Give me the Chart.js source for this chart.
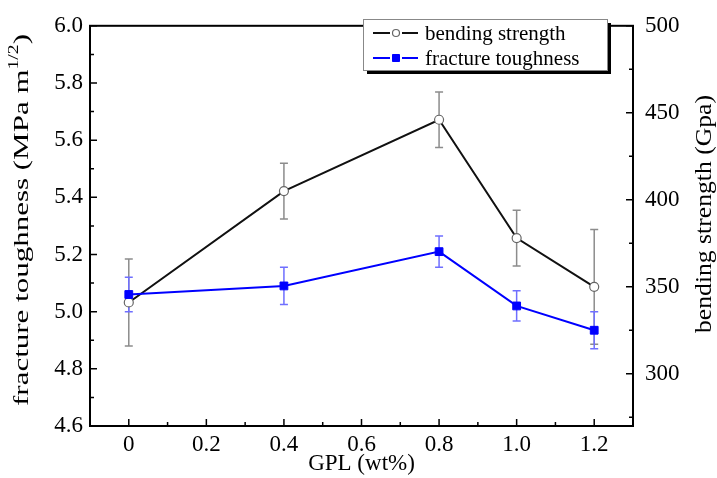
<!DOCTYPE html>
<html lang="en">
<head>
    <meta charset="UTF-8">
    <title>GPL - fracture toughness and bending strength</title>
    <script src="https://cdn.jsdelivr.net/npm/chart.js"></script>
    <style>
        body { margin: 0; background: #fff; }
        #wrap { width: 717px; height: 478px; }
    </style>
</head>
<body>
    <div id="wrap"><canvas id="chart" width="717" height="478"></canvas></div>
    <script>
        // data
        const gpl = [0, 0.4, 0.8, 1.0, 1.2];
        const bendingStrength = [341, 405, 446, 378, 350];
        const bendingErr = [25, 16, 16, 16, 33];
        const fractureToughness = [5.06, 5.09, 5.21, 5.02, 4.935];
        const fractureErr = [0.06, 0.065, 0.055, 0.053, 0.065];

        // ticks
        const xTicks = [0, 0.2, 0.4, 0.6, 0.8, 1.0, 1.2];
        const xMinor = [0.1, 0.3, 0.5, 0.7, 0.9, 1.1];
        const leftTicks = [4.6, 4.8, 5.0, 5.2, 5.4, 5.6, 5.8, 6.0];
        const leftMinor = [4.7, 4.9, 5.1, 5.3, 5.5, 5.7, 5.9];
        const rightTicks = [300, 350, 400, 450, 500];
        const rightMinor = [275, 325, 375, 425, 475];

        const FONT = '"Liberation Serif", "Times New Roman", serif';

        const errorBars = {
            id: 'errorBars',
            beforeDatasetsDraw(chart) {
                const { ctx, scales } = chart;
                function draw(yScale, vals, errs, color) {
                    ctx.save();
                    ctx.strokeStyle = color;
                    ctx.lineWidth = 1.5;
                    gpl.forEach((g, i) => {
                        const px = scales.x.getPixelForValue(g);
                        const top = yScale.getPixelForValue(vals[i] + errs[i]);
                        const bot = yScale.getPixelForValue(vals[i] - errs[i]);
                        ctx.beginPath();
                        ctx.moveTo(px, top); ctx.lineTo(px, bot);
                        ctx.moveTo(px - 4, top); ctx.lineTo(px + 4, top);
                        ctx.moveTo(px - 4, bot); ctx.lineTo(px + 4, bot);
                        ctx.stroke();
                    });
                    ctx.restore();
                }
                draw(scales.y2, bendingStrength, bendingErr, '#8c8c8c');
                draw(scales.y, fractureToughness, fractureErr, '#6f6fff');
            }
        };

        // rotated title, stretched along the text to a given length
        function vTitle(ctx, parts, cx, cy, len) {
            let total = 0;
            parts.forEach(p => { ctx.font = p.size + 'px ' + FONT; p.w = ctx.measureText(p.text).width; total += p.w; });
            ctx.save();
            ctx.translate(cx, cy);
            ctx.rotate(-Math.PI / 2);
            ctx.scale(len / total, 1);
            ctx.textAlign = 'left';
            ctx.textBaseline = 'middle';
            let x = -total / 2;
            parts.forEach(p => {
                ctx.font = p.size + 'px ' + FONT;
                ctx.fillText(p.text, x, p.dy || 0);
                x += p.w;
            });
            ctx.restore();
        }

        const frame = {
            id: 'frame',
            afterDraw(chart) {
                const { ctx, chartArea: a, scales } = chart;
                ctx.save();
                ctx.strokeStyle = '#000';
                ctx.lineWidth = 2;
                ctx.strokeRect(a.left, a.top, a.right - a.left, a.bottom - a.top);

                ctx.lineWidth = 1.5;
                ctx.beginPath();
                xTicks.forEach(v => { const p = scales.x.getPixelForValue(v); ctx.moveTo(p, a.bottom); ctx.lineTo(p, a.bottom - 7); });
                xMinor.forEach(v => { const p = scales.x.getPixelForValue(v); ctx.moveTo(p, a.bottom); ctx.lineTo(p, a.bottom - 4); });
                leftTicks.forEach(v => { const p = scales.y.getPixelForValue(v); ctx.moveTo(a.left, p); ctx.lineTo(a.left + 7, p); });
                leftMinor.forEach(v => { const p = scales.y.getPixelForValue(v); ctx.moveTo(a.left, p); ctx.lineTo(a.left + 4, p); });
                rightTicks.forEach(v => { const p = scales.y2.getPixelForValue(v); ctx.moveTo(a.right, p); ctx.lineTo(a.right - 7, p); });
                rightMinor.forEach(v => { const p = scales.y2.getPixelForValue(v); ctx.moveTo(a.right, p); ctx.lineTo(a.right - 4, p); });
                ctx.stroke();

                // y axis titles
                ctx.fillStyle = '#000';
                vTitle(ctx, [
                    { text: 'fracture toughness (MPa m', size: 22 },
                    { text: '1/2', size: 14, dy: -8 },
                    { text: ')', size: 22 }
                ], 22, 220, 372);
                vTitle(ctx, [{ text: 'bending strength (Gpa)', size: 23 }], 705, 214, 238);

                // legend box with shadow
                const lx = 363, ly = 19, lw = 244, lh = 51;
                ctx.fillStyle = '#000';
                ctx.fillRect(lx + 4, ly + 4, lw, lh);
                ctx.fillStyle = '#fff';
                ctx.fillRect(lx, ly, lw, lh);
                ctx.strokeStyle = '#888';
                ctx.lineWidth = 1;
                ctx.strokeRect(lx + 0.5, ly + 0.5, lw, lh);

                const rows = [
                    { ds: chart.data.datasets[0], y: 33 },
                    { ds: chart.data.datasets[1], y: 58 }
                ];
                rows.forEach(r => {
                    ctx.strokeStyle = r.ds.borderColor;
                    ctx.lineWidth = 2;
                    ctx.beginPath();
                    ctx.moveTo(373, r.y); ctx.lineTo(390, r.y);
                    ctx.moveTo(402, r.y); ctx.lineTo(418, r.y);
                    ctx.stroke();
                    ctx.fillStyle = r.ds.pointBackgroundColor;
                    ctx.strokeStyle = r.ds.pointBorderColor;
                    ctx.lineWidth = r.ds.pointBorderWidth;
                    ctx.beginPath();
                    if (r.ds.pointStyle === 'rect') {
                        ctx.rect(392.5, r.y - 3.5, 7, 7);
                    } else {
                        ctx.arc(396, r.y, 3.5, 0, Math.PI * 2);
                    }
                    ctx.fill(); ctx.stroke();
                    ctx.fillStyle = '#000';
                    ctx.font = '21px ' + FONT;
                    ctx.textAlign = 'left';
                    ctx.textBaseline = 'middle';
                    ctx.fillText(r.ds.label, 425, r.y + 1);
                });
                ctx.restore();
            }
        };

        new Chart(document.getElementById('chart'), {
            type: 'line',
            data: {
                datasets: [{
                    label: 'bending strength',
                    data: gpl.map((g, i) => ({ x: g, y: bendingStrength[i] })),
                    yAxisID: 'y2',
                    borderColor: '#111',
                    borderWidth: 2,
                    pointStyle: 'circle',
                    pointRadius: 4.5,
                    pointBackgroundColor: '#fff',
                    pointBorderColor: '#666',
                    pointBorderWidth: 1.2,
                    order: 2
                }, {
                    label: 'fracture toughness',
                    data: gpl.map((g, i) => ({ x: g, y: fractureToughness[i] })),
                    yAxisID: 'y',
                    borderColor: '#0000ff',
                    borderWidth: 2,
                    pointStyle: 'rect',
                    pointRadius: 5.5,
                    pointBackgroundColor: '#0000ff',
                    pointBorderColor: '#0000ff',
                    pointBorderWidth: 1,
                    order: 1
                }]
            },
            options: {
                responsive: false,
                animation: false,
                layout: { padding: { top: 20 } },
                plugins: { legend: { display: false }, tooltip: { enabled: false } },
                scales: {
                    x: {
                        type: 'linear', min: -0.1, max: 1.3,
                        afterBuildTicks: s => { s.ticks = xTicks.map(v => ({ value: v })); },
                        afterFit: s => { s.height = 52; },
                        grid: { display: false, drawTicks: false },
                        border: { display: false },
                        ticks: {
                            padding: 5, maxRotation: 0, color: '#000',
                            font: { family: FONT, size: 23 },
                            callback: v => v === 0 ? '0' : v.toFixed(1)
                        },
                        title: {
                            display: true, text: 'GPL (wt%)', color: '#000',
                            font: { family: FONT, size: 23 }, padding: { top: 0, bottom: 0 }
                        }
                    },
                    y: {
                        type: 'linear', position: 'left', min: 4.6, max: 6.0,
                        afterBuildTicks: s => { s.ticks = leftTicks.map(v => ({ value: v })); },
                        afterFit: s => { s.width = 90; },
                        grid: { display: false, drawTicks: false },
                        border: { display: false },
                        ticks: {
                            padding: 7, color: '#000',
                            font: { family: FONT, size: 23 },
                            callback: v => v.toFixed(1)
                        }
                    },
                    y2: {
                        type: 'linear', position: 'right', min: 270, max: 500,
                        afterBuildTicks: s => { s.ticks = rightTicks.map(v => ({ value: v })); },
                        afterFit: s => { s.width = 84; },
                        grid: { display: false, drawTicks: false },
                        border: { display: false },
                        ticks: {
                            padding: 12, color: '#000',
                            font: { family: FONT, size: 23 }
                        }
                    }
                }
            },
            plugins: [errorBars, frame]
        });
    </script>
</body>
</html>
